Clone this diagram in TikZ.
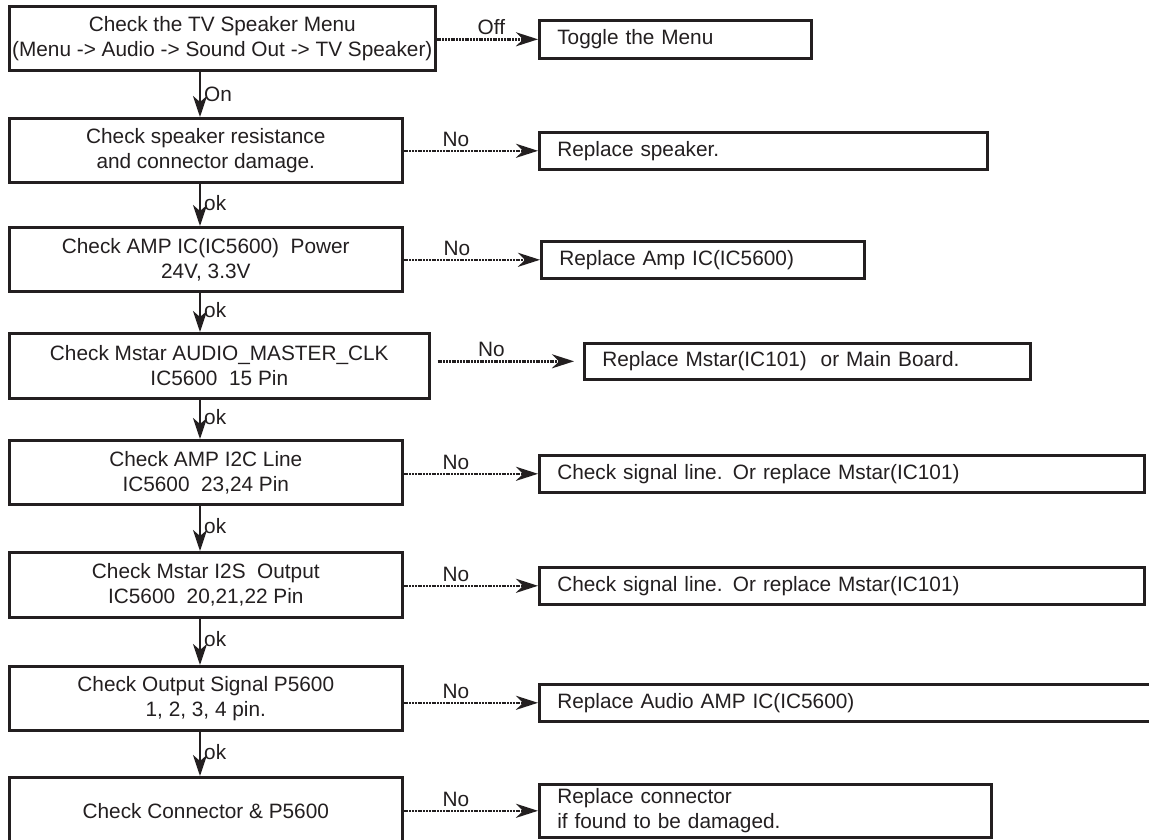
\documentclass[tikz,border=0pt]{standalone}
\usepackage{fontspec}
\setmainfont{Liberation Sans}
\usetikzlibrary{arrows.meta}
\definecolor{ink}{HTML}{231F20}
\newcommand\diafont{\fontsize{20.8}{25}\selectfont}
\begin{document}
\begin{tikzpicture}[x=1pt,y=-1pt,
  every node/.style={font=\diafont, text=ink},
  lbox/.style={draw=ink, line width=2.6pt, anchor=north west, align=center, inner sep=0pt},
  rbox/.style={draw=ink, line width=2.6pt, anchor=north west, align=left, inner xsep=18pt, inner ysep=0pt},
  varrow/.style={draw=ink, line width=2.4pt, -{Stealth[length=21pt,width=14pt,inset=6pt]}},
  harrow/.style={draw=ink, line width=2.6pt, dash pattern=on 2pt off 0.8pt, -{Stealth[length=22pt,width=14pt,inset=7pt]}},
  lab/.style={inner sep=3pt}
]
\useasboundingbox (0,0) rectangle (1149,839);
\fill[white] (0,0) rectangle (1149,839);
\clip (0,0) rectangle (1149,839);

% left column
\node[lbox, minimum width=426pt, minimum height=64pt] (b1) at (8,5) {Check the TV Speaker Menu\\(Menu -> Audio -> Sound Out -> TV Speaker)};
\node[lbox, minimum width=393pt, minimum height=64pt] (b2) at (8,117) {Check speaker resistance\\and connector damage.};
\node[lbox, minimum width=393pt, minimum height=64pt] (b3) at (8,226) {Check AMP IC(IC5600)\ \ Power\\24V, 3.3V};
\node[lbox, minimum width=420pt, minimum height=65pt] (b4) at (8,332) {Check Mstar AUDIO\_MASTER\_CLK\\IC5600\ \ 15 Pin};
\node[lbox, minimum width=393pt, minimum height=64pt] (b5) at (8,439) {Check AMP I2C Line\\IC5600\ \ 23,24 Pin};
\node[lbox, minimum width=393pt, minimum height=65pt] (b6) at (8,551) {Check Mstar I2S\ \ Output\\IC5600\ \ 20,21,22 Pin};
\node[lbox, minimum width=393pt, minimum height=64pt] (b7) at (8,665) {Check Output\ Signal P5600\\1, 2, 3, 4 pin.};
\node[lbox, minimum width=393pt, minimum height=68pt] (b8) at (8,776) {Check Connector \& P5600};

% right column
\node[rbox, text width=236pt, minimum height=38pt] (r1) at (538,19) {Toggle the Menu};
\node[rbox, text width=412pt, minimum height=37pt] (r2) at (538,131) {Replace speaker.};
\node[rbox, text width=287pt, minimum height=37pt] (r3) at (540,240) {Replace Amp IC(IC5600)};
\node[rbox, text width=410pt, minimum height=36pt] (r4) at (583,342) {Replace Mstar(IC101)\ \ or Main Board.};
\node[rbox, text width=569pt, minimum height=37pt] (r5) at (538,454) {Check signal line. Or replace Mstar(IC101)};
\node[rbox, text width=569pt, minimum height=37pt] (r6) at (538,566) {Check signal line. Or replace Mstar(IC101)};
\node[rbox, text width=664pt, minimum height=37pt] (r7) at (538,683) {Replace Audio AMP IC(IC5600)};
\node[rbox, text width=416pt, minimum height=53pt] (r8) at (538,783) {Replace connector\\if found to be damaged.};

% vertical flow
\coordinate (ax) at (200,0);
\draw[varrow] (b1.south -| ax) -- node[right, lab, pos=0.5] {On} (b2.north -| ax);
\draw[varrow] (b2.south -| ax) -- node[right, lab, pos=0.45] {ok} (b3.north -| ax);
\draw[varrow] (b3.south -| ax) -- node[right, lab, pos=0.45] {ok} (b4.north -| ax);
\draw[varrow] (b4.south -| ax) -- node[right, lab, pos=0.45] {ok} (b5.north -| ax);
\draw[varrow] (b5.south -| ax) -- node[right, lab, pos=0.45] {ok} (b6.north -| ax);
\draw[varrow] (b6.south -| ax) -- node[right, lab, pos=0.45] {ok} (b7.north -| ax);
\draw[varrow] (b7.south -| ax) -- node[right, lab, pos=0.45] {ok} (b8.north -| ax);

% side branches
\draw[harrow] (b1.east |- r1.west) -- node[above, lab, pos=0.54] {Off} (r1.west);
\draw[harrow] (b2.east |- r2.west) -- node[above, lab, pos=0.39] {No} (r2.west);
\draw[harrow] (b3.east |- r3.west) -- node[above, lab, pos=0.39] {No} (r3.west);
\draw[harrow, shorten >=9pt] ([xshift=7pt]b4.east |- r4.west) -- node[above, lab, pos=0.37] {No} (r4.west);
\draw[harrow] (b5.east |- r5.west) -- node[above, lab, pos=0.39] {No} (r5.west);
\draw[harrow] (b6.east |- r6.west) -- node[above, lab, pos=0.39] {No} (r6.west);
\draw[harrow] (b7.east |- r7.west) -- node[above, lab, pos=0.39] {No} (r7.west);
\draw[harrow] (b8.east |- r8.west) -- node[above, lab, pos=0.39] {No} (r8.west);
\end{tikzpicture}
\end{document}
